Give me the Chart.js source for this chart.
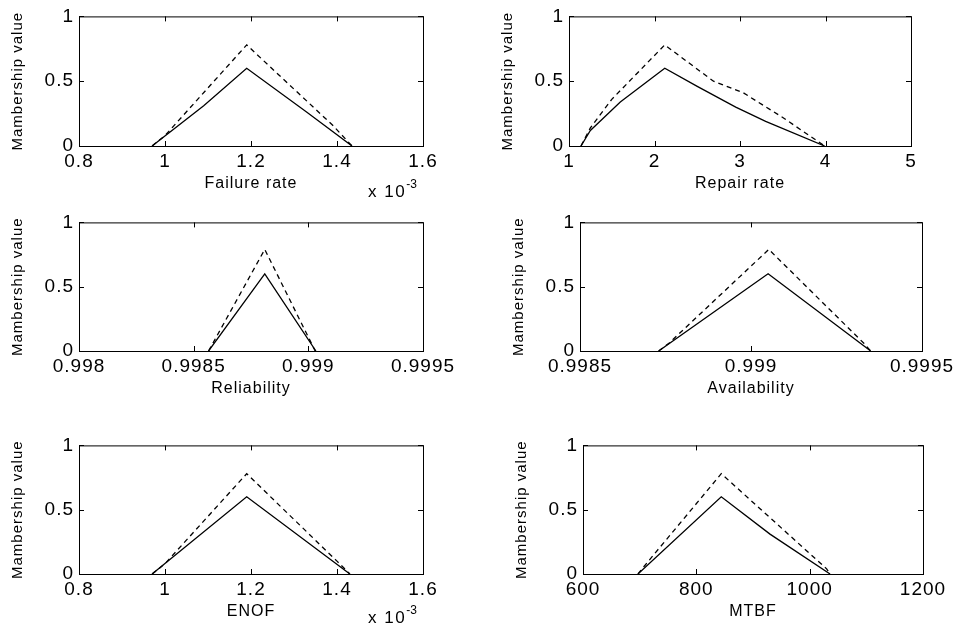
<!DOCTYPE html>
<html>
<head>
<meta charset="utf-8">
<script src="https://cdn.jsdelivr.net/npm/chart.js@4.4.1/dist/chart.umd.min.js"></script>
<style>
  html, body { margin: 0; padding: 0; background: #fff; overflow: hidden; }
  #pagina { position: relative; width: 957px; height: 631px; }
  #pagina canvas { position: absolute; }
  .exponente {
    position: absolute;
    font-family: "Liberation Sans", Arial, sans-serif;
    font-size: 17px;
    line-height: 17px;
    letter-spacing: 1.5px;
    color: #000;
    white-space: nowrap;
  }
  .exponente sup { font-size: 12px; vertical-align: 9px; line-height: 0; letter-spacing: 0; }
</style>
</head>
<body>
<div id="pagina">
  <canvas id="panel-falla"></canvas>
  <canvas id="panel-reparacion"></canvas>
  <canvas id="panel-confiabilidad"></canvas>
  <canvas id="panel-disponibilidad"></canvas>
  <canvas id="panel-enof"></canvas>
  <canvas id="panel-mtbf"></canvas>
  <div class="exponente" style="left:368px; top:183px">x 10<sup>-3</sup></div>
  <div class="exponente" style="left:368px; top:609px">x 10<sup>-3</sup></div>
</div>
<script>
// --- DATOS ---
const ticksY = [0, 0.5, 1];

// Failure rate (x 10^-3)
const fallaTicks = [0.8, 1, 1.2, 1.4, 1.6];
const fallaSolidoX = [0.97, 1.09, 1.19, 1.33, 1.435];
const fallaSolidoY = [0, 0.31, 0.6, 0.26, 0];
const fallaTrazosX = [0.97, 1.0, 1.19, 1.39, 1.435];
const fallaTrazosY = [0, 0.08, 0.78, 0.16, 0];

// Repair rate
const reparacionTicks = [1, 2, 3, 4, 5];
const reparacionSolidoX = [1.14, 1.25, 1.6, 2.12, 2.5, 2.95, 3.3, 3.99];
const reparacionSolidoY = [0, 0.12, 0.34, 0.6, 0.46, 0.3, 0.19, 0];
const reparacionTrazosX = [1.14, 1.25, 1.5, 2.12, 2.69, 3.04, 3.5, 3.99];
const reparacionTrazosY = [0, 0.14, 0.36, 0.78, 0.5, 0.41, 0.22, 0];

// Reliability
const confiabilidadTicks = [0.998, 0.9985, 0.999, 0.9995];
const confiabilidadSolidoX = [0.998565, 0.99881, 0.999033];
const confiabilidadSolidoY = [0, 0.6, 0];
const confiabilidadTrazosX = [0.998565, 0.99881, 0.99903];
const confiabilidadTrazosY = [0, 0.79, 0];

// Availability
const disponibilidadTicks = [0.9985, 0.999, 0.9995];
const disponibilidadSolidoX = [0.99873, 0.99905, 0.99935];
const disponibilidadSolidoY = [0, 0.6, 0];
const disponibilidadTrazosX = [0.99873, 0.99876, 0.999052, 0.99933, 0.99935];
const disponibilidadTrazosY = [0, 0.06, 0.79, 0.06, 0];

// ENOF (x 10^-3)
const enofTicks = [0.8, 1, 1.2, 1.4, 1.6];
const enofSolidoX = [0.97, 1.19, 1.43];
const enofSolidoY = [0, 0.6, 0];
const enofTrazosX = [0.97, 1.0, 1.19, 1.4, 1.43];
const enofTrazosY = [0, 0.08, 0.78, 0.1, 0];

// MTBF
const mtbfTicks = [600, 800, 1000, 1200];
const mtbfSolidoX = [697, 844, 930, 1036];
const mtbfSolidoY = [0, 0.6, 0.31, 0];
const mtbfTrazosX = [697, 706, 844, 1030, 1036];
const mtbfTrazosY = [0, 0.05, 0.78, 0.04, 0];

// --- CONFIGURACIÓN GENERAL ---
Chart.defaults.font.family = '"Liberation Sans", Arial, sans-serif';
Chart.defaults.color = '#000';

const ANCHO_EJE_Y = 79;
const ALTO_EJE_X = 54;
const MARGEN_SUP = 13;
const MARGEN_DER = 45;

// Marco tipo MATLAB: caja completa con ticks hacia adentro
const marcoMatlab = {
  id: 'marcoMatlab',
  beforeLayout(chart) { chart.ctx.letterSpacing = '1px'; },
  beforeDraw(chart) { chart.ctx.letterSpacing = '1px'; },
  afterDraw(chart) {
    const { ctx, chartArea: a, scales: { x, y } } = chart;
    const largo = 5;
    ctx.save();
    ctx.strokeStyle = '#000';
    ctx.lineWidth = 1;
    ctx.strokeRect(a.left + 0.5, a.top + 0.5, a.right - a.left, a.bottom - a.top);
    ctx.beginPath();
    x.ticks.forEach(t => {
      const px = Math.round(x.getPixelForValue(t.value)) + 0.5;
      ctx.moveTo(px, a.bottom); ctx.lineTo(px, a.bottom - largo);
      ctx.moveTo(px, a.top); ctx.lineTo(px, a.top + largo);
    });
    y.ticks.forEach(t => {
      const py = Math.round(y.getPixelForValue(t.value)) + 0.5;
      ctx.moveTo(a.left, py); ctx.lineTo(a.left + largo, py);
      ctx.moveTo(a.right, py); ctx.lineTo(a.right - largo, py);
    });
    ctx.stroke();
    ctx.restore();
  }
};

function pares(xs, ys) {
  return xs.map((x, i) => ({ x: x, y: ys[i] }));
}

function crearPanel(id, caja, titulo, ticksX, solidoX, solidoY, trazosX, trazosY) {
  const canvas = document.getElementById(id);
  canvas.width = ANCHO_EJE_Y + caja.w + MARGEN_DER;
  canvas.height = MARGEN_SUP + caja.h + ALTO_EJE_X;
  canvas.style.left = (caja.left - ANCHO_EJE_Y) + 'px';
  canvas.style.top = (caja.top - MARGEN_SUP) + 'px';

  return new Chart(canvas, {
    type: 'line',
    data: {
      datasets: [
        {
          data: pares(solidoX, solidoY),
          borderColor: '#000',
          borderWidth: 1.3,
          pointRadius: 0,
          tension: 0,
          fill: false
        },
        {
          data: pares(trazosX, trazosY),
          borderColor: '#000',
          borderWidth: 1.3,
          borderDash: [5, 4],
          pointRadius: 0,
          tension: 0,
          fill: false
        }
      ]
    },
    options: {
      responsive: false,
      animation: false,
      devicePixelRatio: 1,
      layout: { padding: { top: MARGEN_SUP, right: MARGEN_DER, left: 0, bottom: 0 } },
      plugins: {
        legend: { display: false },
        tooltip: { enabled: false }
      },
      scales: {
        x: {
          type: 'linear',
          min: ticksX[0],
          max: ticksX[ticksX.length - 1],
          afterBuildTicks: s => { s.ticks = ticksX.map(v => ({ value: v })); },
          afterFit: s => { s.height = ALTO_EJE_X; },
          grid: { display: false, drawTicks: false },
          border: { display: false },
          ticks: {
            color: '#000',
            font: { size: 19 },
            padding: 4,
            autoSkip: false,
            maxRotation: 0,
            callback: v => String(v)
          },
          title: {
            display: true,
            text: titulo,
            color: '#000',
            font: { size: 16 },
            padding: { top: 0, bottom: 7 }
          }
        },
        y: {
          min: 0,
          max: 1,
          afterBuildTicks: s => { s.ticks = ticksY.map(v => ({ value: v })); },
          afterFit: s => { s.width = ANCHO_EJE_Y; },
          grid: { display: false, drawTicks: false },
          border: { display: false },
          ticks: {
            color: '#000',
            font: { size: 19 },
            padding: 5,
            callback: v => String(v)
          },
          title: {
            display: true,
            text: 'Mambership value',
            color: '#000',
            font: { size: 15 },
            padding: { top: 9, bottom: 0 }
          }
        }
      }
    },
    plugins: [marcoMatlab]
  });
}

// --- PANELES ---
crearPanel('panel-falla', { left: 79, top: 13, w: 344, h: 133 }, 'Failure rate',
  fallaTicks, fallaSolidoX, fallaSolidoY, fallaTrazosX, fallaTrazosY);
crearPanel('panel-reparacion', { left: 569, top: 13, w: 342, h: 133 }, 'Repair rate',
  reparacionTicks, reparacionSolidoX, reparacionSolidoY, reparacionTrazosX, reparacionTrazosY);
crearPanel('panel-confiabilidad', { left: 79, top: 219, w: 344, h: 132 }, 'Reliability',
  confiabilidadTicks, confiabilidadSolidoX, confiabilidadSolidoY, confiabilidadTrazosX, confiabilidadTrazosY);
crearPanel('panel-disponibilidad', { left: 580, top: 219, w: 342, h: 132 }, 'Availability',
  disponibilidadTicks, disponibilidadSolidoX, disponibilidadSolidoY, disponibilidadTrazosX, disponibilidadTrazosY);
crearPanel('panel-enof', { left: 79, top: 442, w: 344, h: 132 }, 'ENOF',
  enofTicks, enofSolidoX, enofSolidoY, enofTrazosX, enofTrazosY);
crearPanel('panel-mtbf', { left: 583, top: 442, w: 340, h: 132 }, 'MTBF',
  mtbfTicks, mtbfSolidoX, mtbfSolidoY, mtbfTrazosX, mtbfTrazosY);
</script>
</body>
</html>
